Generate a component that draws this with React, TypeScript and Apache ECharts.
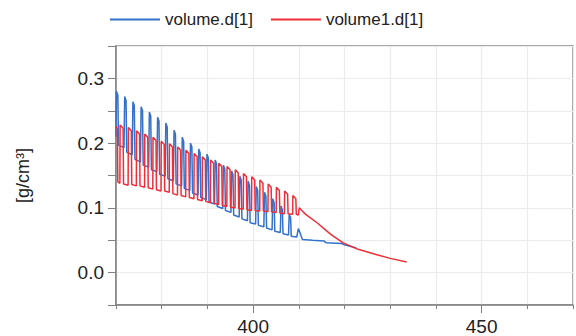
import React, { useEffect, useRef } from "react";
import * as echarts from "echarts";

const seriesNames = ["volume.d[1]", "volume1.d[1]"];
const xLabelValues = [400, 450];
const yLabelValues = [0.0, 0.1, 0.2, 0.3];

const volumeD1: [number, number][] = [
  [370.0, 0.21], [370.1, 0.28], [370.4, 0.274], [370.55, 0.197], [371.75, 0.193],
  [371.9, 0.272], [372.2, 0.266], [372.35, 0.186], [373.55, 0.182],
  [373.7, 0.264], [374.0, 0.258], [374.15, 0.175], [375.35, 0.171],
  [375.5, 0.256], [375.8, 0.25], [375.95, 0.166], [377.15, 0.163],
  [377.3, 0.248], [377.6, 0.242], [377.75, 0.159], [378.95, 0.156],
  [379.1, 0.24], [379.4, 0.234], [379.55, 0.152], [380.75, 0.149],
  [380.9, 0.231], [381.2, 0.225], [381.35, 0.145], [382.55, 0.142],
  [382.7, 0.22], [383.0, 0.214], [383.15, 0.137], [384.35, 0.134],
  [384.5, 0.209], [384.8, 0.203], [384.95, 0.13], [386.15, 0.127],
  [386.3, 0.2], [386.6, 0.194], [386.75, 0.123], [387.95, 0.12],
  [388.1, 0.191], [388.4, 0.185], [388.55, 0.116], [389.75, 0.113],
  [389.9, 0.183], [390.2, 0.177], [390.35, 0.109], [391.55, 0.106],
  [391.7, 0.174], [392.0, 0.168], [392.15, 0.102], [393.35, 0.099],
  [393.5, 0.166], [393.8, 0.16], [393.95, 0.096], [395.15, 0.093],
  [395.3, 0.157], [395.6, 0.151], [395.75, 0.089], [396.95, 0.086],
  [397.1, 0.149], [397.4, 0.143], [397.55, 0.083], [398.75, 0.08],
  [398.9, 0.141], [399.2, 0.135], [399.35, 0.077], [400.55, 0.075],
  [400.7, 0.133], [401.0, 0.127], [401.15, 0.073], [402.35, 0.071],
  [402.5, 0.124], [402.8, 0.118], [402.95, 0.069], [404.15, 0.066],
  [404.3, 0.114], [404.6, 0.108], [404.75, 0.064], [405.95, 0.062],
  [406.1, 0.103], [406.4, 0.097], [406.55, 0.06], [407.75, 0.058],
  [407.9, 0.09], [408.2, 0.085], [408.35, 0.056], [409.55, 0.055],
  [409.9, 0.068], [410.3, 0.061], [410.8, 0.051], [413.0, 0.05],
  [415.5, 0.049], [416.0, 0.046], [419.4, 0.045], [420.0, 0.043], [422.6, 0.038],
];

const volume1D1: [number, number][] = [
  [370.0, 0.226], [370.3, 0.222], [370.4, 0.14], [370.85, 0.138],
  [370.9, 0.228], [371.55, 0.223], [371.65, 0.137], [372.65, 0.135],
  [372.7, 0.224], [373.35, 0.219], [373.45, 0.136], [374.45, 0.134],
  [374.5, 0.219], [375.15, 0.214], [375.25, 0.134], [376.25, 0.132],
  [376.3, 0.214], [376.95, 0.209], [377.05, 0.131], [378.05, 0.129],
  [378.1, 0.209], [378.75, 0.204], [378.85, 0.128], [379.85, 0.126],
  [379.9, 0.203], [380.55, 0.198], [380.65, 0.126], [381.65, 0.124],
  [381.7, 0.199], [382.35, 0.194], [382.45, 0.122], [383.45, 0.12],
  [383.5, 0.194], [384.15, 0.189], [384.25, 0.119], [385.25, 0.117],
  [385.3, 0.189], [385.95, 0.184], [386.05, 0.116], [387.05, 0.114],
  [387.1, 0.184], [387.75, 0.179], [387.85, 0.113], [388.85, 0.111],
  [388.9, 0.179], [389.55, 0.174], [389.65, 0.11], [390.65, 0.108],
  [390.7, 0.174], [391.35, 0.169], [391.45, 0.107], [392.45, 0.105],
  [392.5, 0.169], [393.15, 0.164], [393.25, 0.104], [394.25, 0.102],
  [394.3, 0.164], [394.95, 0.159], [395.05, 0.101], [396.05, 0.1],
  [396.1, 0.159], [396.75, 0.154], [396.85, 0.099], [397.85, 0.098],
  [397.9, 0.153], [398.55, 0.148], [398.65, 0.097], [399.65, 0.096],
  [399.7, 0.148], [400.35, 0.143], [400.45, 0.096], [401.45, 0.095],
  [401.5, 0.143], [402.15, 0.138], [402.25, 0.095], [403.25, 0.094],
  [403.3, 0.137], [403.95, 0.132], [404.05, 0.094], [405.05, 0.093],
  [405.1, 0.132], [405.75, 0.127], [405.85, 0.092], [406.85, 0.091],
  [406.9, 0.126], [407.55, 0.121], [407.65, 0.091], [408.65, 0.09],
  [408.7, 0.119], [409.35, 0.114], [409.45, 0.09], [409.9, 0.089],
  [410.1, 0.1], [410.5, 0.097], [411.5, 0.09], [414.0, 0.077], [417.0, 0.059],
  [419.7, 0.046], [423.0, 0.036], [426.9, 0.028], [430.0, 0.022], [433.6, 0.0165],
];

const FONT = "'Liberation Sans', Arial, sans-serif";
const BLUE = "#3371cc";
const RED = "#ee2f37";
const AXIS = "#808080";

export default function App() {
  const ref = useRef<HTMLDivElement>(null);
  useEffect(() => {
    if (!ref.current) return;
    const chart = echarts.init(ref.current, undefined, { renderer: "svg" });
    const isLabelY = (v: number) => yLabelValues.some((l) => Math.abs(l - v) < 1e-6);
    chart.setOption({
      animation: false,
      backgroundColor: "#ffffff",
      textStyle: { fontFamily: FONT },
      grid: {
        left: 116,
        right: -4,
        top: 46,
        bottom: 31,
        show: true,
        borderColor: "#8c8c8c",
        borderWidth: 1.5,
      },
      legend: {
        left: 105,
        top: 6,
        itemWidth: 50,
        itemHeight: 2,
        itemGap: 18,
        icon: "rect",
        textStyle: { fontSize: 17, color: "#222", fontFamily: FONT },
        data: seriesNames,
      },
      xAxis: [
        {
          type: "value",
          min: 370,
          max: 470,
          interval: 10,
          axisLine: { show: true, onZero: false, lineStyle: { color: AXIS, width: 1.5 } },
          axisTick: { show: true, length: 4, lineStyle: { color: AXIS } },
          axisLabel: {
            fontSize: 19,
            color: "#222",
            margin: 12,
            formatter: (v: number) => (xLabelValues.includes(Math.round(v)) ? String(Math.round(v)) : ""),
          },
          splitLine: { show: true, lineStyle: { color: "#ebebeb", width: 1.2 } },
        },
        {
          type: "value",
          position: "bottom",
          min: 370,
          max: 470,
          interval: 10,
          axisLine: { show: false, onZero: false },
          axisTick: { show: true, length: 8, customValues: xLabelValues, lineStyle: { color: AXIS } },
          axisLabel: { show: false },
          splitLine: { show: false },
        },
      ],
      yAxis: {
        type: "value",
        min: -0.05,
        max: 0.35,
        interval: 0.05,
        name: "[g/cm³]",
        nameLocation: "middle",
        nameRotate: 90,
        nameGap: 84,
        nameTextStyle: { fontSize: 18, color: "#222", fontFamily: FONT },
        axisLine: { show: true, onZero: false, lineStyle: { color: AXIS, width: 1.5 } },
        axisTick: { show: true, length: 8, lineStyle: { color: AXIS } },
        axisLabel: {
          fontSize: 19,
          color: "#222",
          margin: 12,
          formatter: (v: number) => (isLabelY(v) ? v.toFixed(1) : ""),
        },
        splitLine: { show: true, lineStyle: { color: "#ebebeb", width: 1.2 } },
      },
      series: [
        {
          name: seriesNames[0],
          type: "line",
          data: volumeD1,
          showSymbol: false,
          symbol: "none",
          lineStyle: { color: BLUE, width: 1.5 },
          itemStyle: { color: BLUE },
        },
        {
          name: seriesNames[1],
          type: "line",
          data: volume1D1,
          showSymbol: false,
          symbol: "none",
          lineStyle: { color: RED, width: 1.5 },
          itemStyle: { color: RED },
        },
      ],
    });
    return () => chart.dispose();
  }, []);
  return (
    <div
      ref={ref}
      style={{ position: "fixed", left: 0, top: 0, width: 576, height: 336, background: "#fff" }}
    />
  );
}
